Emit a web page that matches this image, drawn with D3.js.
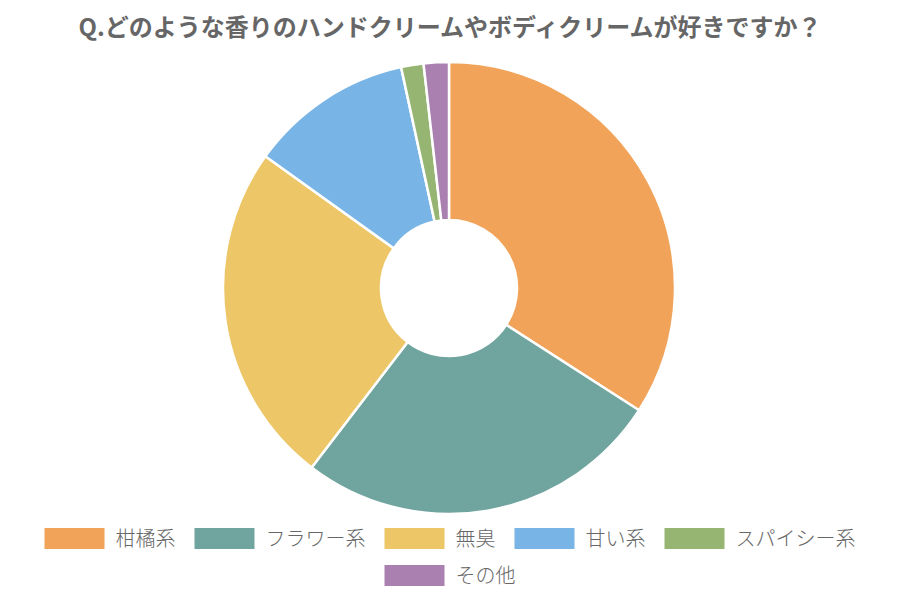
<!DOCTYPE html>
<html>
<head>
<meta charset="utf-8">
<script src="https://cdn.jsdelivr.net/npm/d3@7"></script>
<style>
  body { margin: 0; background: #fff; }
  text { font-family: "Noto Sans CJK JP", "Noto Sans", sans-serif; }
</style>
</head>
<body>
<div id="chart"></div>
<script>
// chart size
var width = 900;
var height = 600;

// data
var titleText = "Q.どのような香りのハンドクリームやボディクリームが好きですか？";
var labels = ["柑橘系", "フラワー系", "無臭", "甘い系", "スパイシー系", "その他"];
var values = [34.1, 26.3, 24.5, 11.7, 1.6, 1.8];
var colors = ["#f1a359", "#70a59f", "#ecc667", "#78b5e6", "#96b573", "#a980b0"];

var svg = d3.select("#chart").append("svg")
  .attr("width", width)
  .attr("height", height);

// title
svg.append("text")
  .attr("x", width / 2)
  .attr("y", 36)
  .attr("text-anchor", "middle")
  .style("font-size", "24px")
  .style("font-weight", "bold")
  .style("fill", "#666")
  .text(titleText);

// donut
var cx = 449, cy = 288, outerR = 226, innerR = 68;
var color = d3.scaleOrdinal().domain(labels).range(colors);

var pie = d3.pie().sort(null).value(function(d) { return d.value; });
var arc = d3.arc().innerRadius(innerR).outerRadius(outerR);

var data = labels.map(function(l, i) { return { label: l, value: values[i] }; });

svg.append("g")
    .attr("transform", "translate(" + cx + "," + cy + ")")
  .selectAll("path")
  .data(pie(data))
  .enter()
    .append("path")
    .attr("d", arc)
    .style("fill", function(d) { return color(d.data.label); })
    .style("stroke", "#fff")
    .style("stroke-width", 2.5);

// legend, wrapped and centred like chart.js
var boxW = 60, boxH = 21, textGap = 11, itemGap = 19, maxW = 860;
var legend = svg.append("g");
var items = legend.selectAll("g")
  .data(labels)
  .enter()
    .append("g");
items.append("rect")
  .attr("width", boxW)
  .attr("height", boxH)
  .style("fill", color);
items.append("text")
  .attr("x", boxW + textGap)
  .attr("y", boxH / 2)
  .attr("dy", ".35em")
  .style("font-size", "20px")
  .style("font-weight", 300)
  .style("fill", "#666")
  .text(function(d) { return d; });

var rows = [[]], rowW = [0];
items.each(function(d) {
  var w = boxW + textGap + this.querySelector("text").getComputedTextLength();
  var r = rows.length - 1;
  var add = rows[r].length ? itemGap + w : w;
  if (rowW[r] + add > maxW) { rows.push([]); rowW.push(0); r++; add = w; }
  rows[r].push({ node: this, w: w });
  rowW[r] += add;
});
rows.forEach(function(row, r) {
  var x = (width - rowW[r]) / 2;
  row.forEach(function(it) {
    d3.select(it.node).attr("transform", "translate(" + x + "," + (528 + r * 37) + ")");
    x += it.w + itemGap;
  });
});
</script>
</body>
</html>
